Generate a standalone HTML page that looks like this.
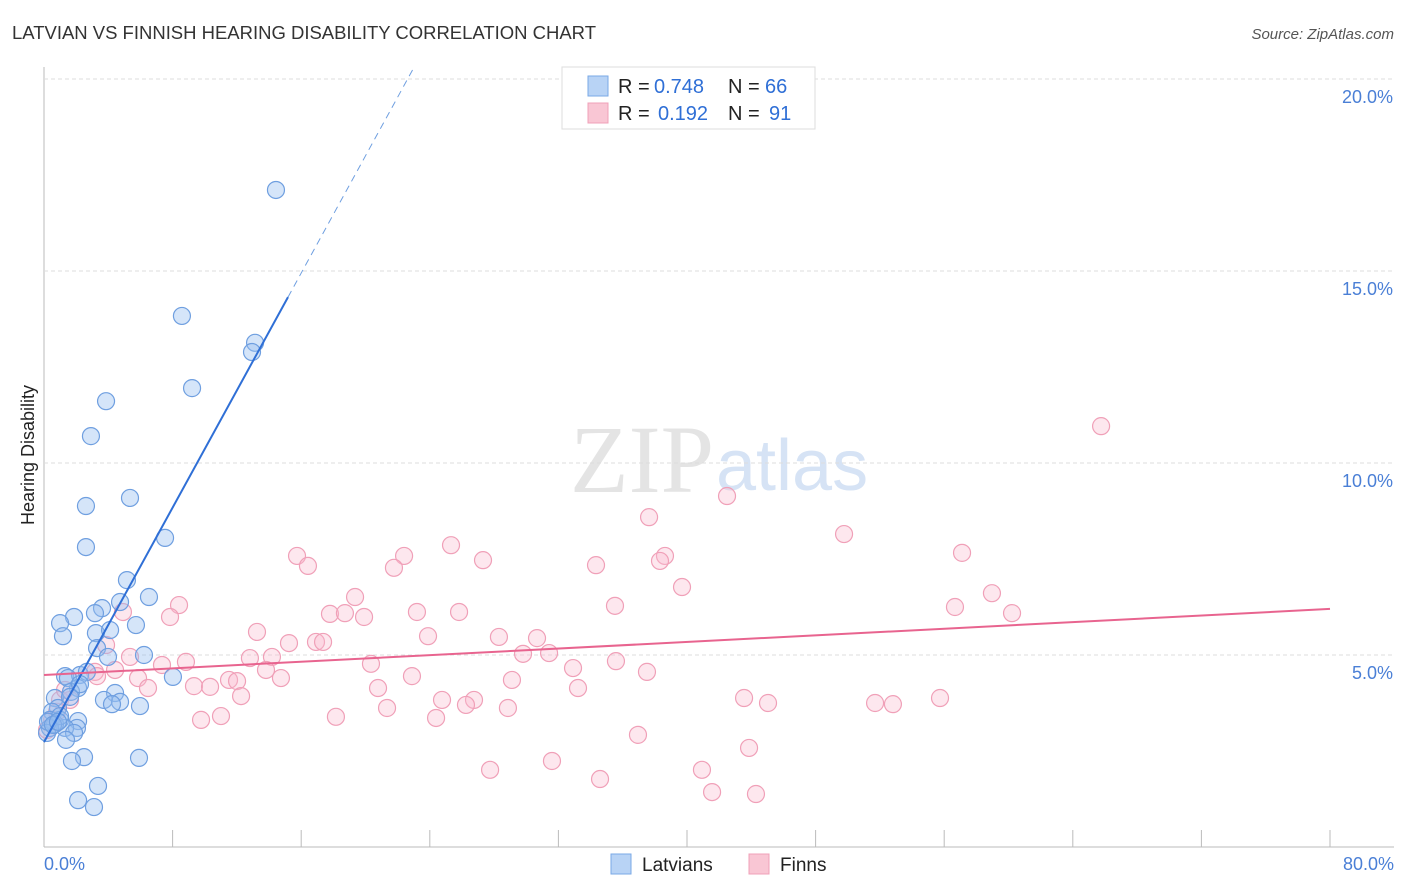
<!DOCTYPE html>
<html><head><meta charset="utf-8"><style>
body{margin:0;background:#fff;font-family:"Liberation Sans",sans-serif;}
svg{display:block}
</style></head><body>
<svg id="c" width="1406" height="892" xmlns="http://www.w3.org/2000/svg">
<text x="12" y="39" font-size="18.5" fill="#333" textLength="584">LATVIAN VS FINNISH HEARING DISABILITY CORRELATION CHART</text>
<text x="1394" y="39" font-size="15" fill="#555" font-style="italic" text-anchor="end">Source: ZipAtlas.com</text>
<text x="714" y="492" font-size="96" fill="#e4e4e4" text-anchor="end" font-family="Liberation Serif,serif">ZIP</text>
<text x="716" y="490" font-size="72" fill="#d6e3f5">atlas</text>
<g id="grid"></g>
<g id="pts"></g>
<g id="trend"></g>
<text transform="translate(34,455) rotate(-90)" font-size="18" fill="#222" text-anchor="middle">Hearing Disability</text>
<text x="44" y="870" font-size="18" fill="#4a7fd6">0.0%</text>
<text x="1394" y="870" font-size="18" fill="#4a7fd6" text-anchor="end">80.0%</text>
<g>
<rect x="562" y="67" width="253" height="62" fill="#fff" stroke="#ddd"/>
<rect x="588" y="76" width="20" height="20" fill="#b8d3f5" stroke="#7aa8e6"/>
<rect x="588" y="103" width="20" height="20" fill="#f9c6d4" stroke="#f0a0b8"/>
<text x="618" y="93" font-size="20" fill="#222">R =</text>
<text x="654" y="93" font-size="20" fill="#2f6fd6">0.748</text>
<text x="728" y="93" font-size="20" fill="#222">N =</text>
<text x="765" y="93" font-size="20" fill="#2f6fd6">66</text>
<text x="618" y="120" font-size="20" fill="#222">R =</text>
<text x="658" y="120" font-size="20" fill="#2f6fd6">0.192</text>
<text x="728" y="120" font-size="20" fill="#222">N =</text>
<text x="769" y="120" font-size="20" fill="#2f6fd6">91</text>
</g>
<g><rect x="611" y="854" width="20" height="20" fill="#b8d3f5" stroke="#7aa8e6"/><text x="642" y="871" font-size="19" fill="#222">Latvians</text></g>
<g><rect x="749" y="854" width="20" height="20" fill="#f9c6d4" stroke="#f0a0b8"/><text x="780" y="871" font-size="19" fill="#222">Finns</text></g>
</svg>
<script>
const yTicks=[5,10,15,20];
const xTicks=[0,8,16,24,32,40,48,56,64,72,80];
const latX=[14.43,8.58,13.13,12.94,9.21,3.86,2.92,5.35,2.61,7.53,2.61,5.16,6.53,4.73,3.61,1.87,1.00,3.17,5.72,1.18,3.23,4.11,3.30,6.22,3.98,8.02,1.31,2.24,1.49,2.67,2.12,1.68,2.24,4.42,3.73,4.73,5.97,4.23,0.68,0.87,0.50,0.37,1.00,2.12,2.05,1.31,1.87,0.68,0.37,0.19,1.37,2.49,1.74,5.91,3.36,2.12,3.11,1.00,1.62,0.25,0.56,0.87];
const latY=[17.11,13.83,13.13,12.89,11.95,11.61,10.70,9.09,8.88,8.05,7.81,6.95,6.51,6.38,6.22,5.99,5.83,6.09,5.78,5.49,5.57,5.65,5.18,5.00,4.95,4.43,4.45,4.48,4.40,4.56,4.14,4.04,4.24,4.01,3.83,3.78,3.67,3.72,3.88,3.62,3.52,3.31,3.31,3.28,3.10,3.10,2.97,3.20,3.10,2.97,2.79,2.34,2.24,2.32,1.59,1.22,1.04,3.41,3.91,3.26,3.18,3.26];
const finX=[65.76,42.49,37.64,49.77,25.32,15.74,22.40,57.11,27.31,38.63,38.32,16.42,21.77,34.34,39.69,19.35,58.97,8.40,56.67,35.52,23.20,25.82,60.22,17.79,18.72,19.91,4.91,7.84,13.25,23.89,28.30,30.67,15.24,16.92,17.36,3.86,29.80,31.42,5.35,12.81,14.18,8.83,7.34,35.58,20.34,32.91,37.51,4.42,3.17,13.81,3.30,5.85,22.89,11.51,12.01,14.74,29.11,9.33,10.33,6.47,20.78,33.22,12.26,43.55,45.04,24.76,26.75,26.25,51.70,52.81,55.74,21.34,28.86,18.16,11.01,9.77,24.39,36.95,43.86,27.75,31.60,40.93,34.59,41.56,44.29,0.81,1.00,1.62,0.19,0.50,1.31];
const finY=[10.96,9.14,8.59,8.15,7.86,7.58,7.58,7.66,7.47,7.58,7.45,7.32,7.27,7.34,6.77,6.51,6.61,6.30,6.25,6.28,6.12,6.12,6.09,6.07,6.09,5.99,6.12,5.99,5.60,5.49,5.47,5.44,5.31,5.34,5.34,5.26,5.03,5.05,4.95,4.92,4.95,4.82,4.74,4.84,4.77,4.66,4.56,4.61,4.56,4.61,4.45,4.40,4.45,4.35,4.32,4.40,4.35,4.19,4.17,4.14,4.14,4.14,3.93,3.88,3.75,3.83,3.83,3.70,3.75,3.72,3.88,3.62,3.62,3.39,3.41,3.31,3.36,2.92,2.58,2.01,2.24,2.01,1.77,1.43,1.38,3.52,3.83,3.83,3.05,3.31,4.09];
const latTrend=[2.73,0.7635]; // intercept, slope
const finTrend=[4.48,0.0215];
const NS='http://www.w3.org/2000/svg';
const X=v=>44+v*1286/80, Y=v=>847-v*38.4;
function mk(tag,a,p){const e=document.createElementNS(NS,tag);for(const k in a)e.setAttribute(k,a[k]);p.appendChild(e);return e;}
const g=document.getElementById('grid');
let ax=mk('line',{x1:44,y1:67,x2:44,y2:847,stroke:'#bbb'},g);


let bx=mk('line',{x1:44,y1:847,x2:1394,y2:847,stroke:'#bbb'},g);


yTicks.forEach(t=>{
 let l=mk('line',{x1:44,y1:Y(t),x2:1394,y2:Y(t),stroke:'#ddd','stroke-dasharray':'4,3'},g);
 
 
 let tx=mk('text',{x:1393,y:Y(t)+24,'font-size':18,fill:'#4a7fd6','text-anchor':'end'},g);
 tx.textContent=t.toFixed(1)+'%';
 
 
});
xTicks.slice(1).forEach(t=>{
 let l=mk('line',{x1:X(t),y1:830,x2:X(t),y2:847,stroke:'#bbb'},g);
 
 
});
const p=document.getElementById('pts');
finX.forEach((x,i)=>{
 let c=mk('circle',{cx:X(x),cy:Y(finY[i]),r:8.5,fill:'rgba(248,185,205,0.35)',stroke:'#f0a0b8','stroke-width':1.2},p);
 
 
});
latX.forEach((x,i)=>{
 let c=mk('circle',{cx:X(x),cy:Y(latY[i]),r:8.5,fill:'rgba(150,190,240,0.4)',stroke:'#6f9fe0','stroke-width':1.2},p);
 
 
});
const tg=document.getElementById('trend');
const lf=x=>latTrend[0]+latTrend[1]*x;
let l1=mk('line',{x1:X(0),y1:Y(lf(0)),x2:X(15.18),y2:Y(lf(15.18)),stroke:'#2f6fd6','stroke-width':2},tg);


const xe=(20.3-latTrend[0])/latTrend[1];
let l2=mk('line',{x1:X(15.18),y1:Y(lf(15.18)),x2:X(xe),y2:Y(lf(xe)),stroke:'#6f9fe0','stroke-width':1,'stroke-dasharray':'7,5'},tg);


const ff=x=>finTrend[0]+finTrend[1]*x;
let l3=mk('line',{x1:X(0),y1:Y(ff(0)),x2:X(80),y2:Y(ff(80)),stroke:'#e8648f','stroke-width':2},tg);


</script>
</body></html>
